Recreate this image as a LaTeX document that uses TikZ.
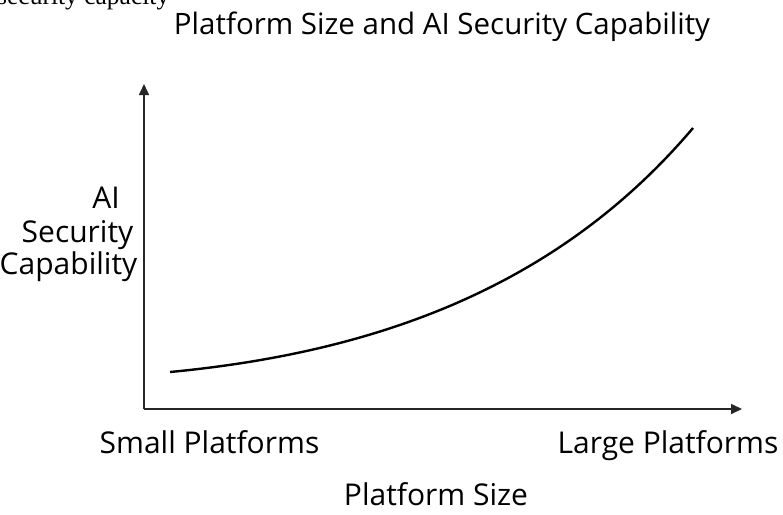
\documentclass[tikz,border=0pt]{standalone}
\usepackage{fontspec}
\setmainfont{Open Sans}
\newfontfamily\serifpart{Liberation Serif}
\usetikzlibrary{arrows.meta}
\begin{document}
\begin{tikzpicture}[x=1pt,y=-1pt,
  lbl/.style={font=\fontsize{30}{34}\selectfont, inner sep=0pt, anchor=base},
  axis/.style={line width=1.6pt, draw=black!85, -{Triangle[length=11pt,width=10pt]}},
  curve/.style={line width=2.4pt}]
\useasboundingbox[fill=white] (0,0) rectangle (783,514);
\node[font=\serifpart\fontsize{25.5}{27}\selectfont, anchor=base west, inner sep=0pt] (frag) at (-3,5) {security capacity};
\node[lbl, font=\fontsize{29.5}{34}\selectfont] (title) at (442,34) {Platform Size and AI Security Capability};
\coordinate (origin) at (144,409);
\coordinate (ytip) at (144,84);
\coordinate (xtip) at (742,409);
\draw[axis] (origin) -- (ytip);
\draw[axis] (origin) -- (xtip);
\node[lbl] (ylabA) at (106,208) {AI};
\node[lbl] (ylabB) at (77.5,242) {Security};
\node[lbl] (ylabC) at (68.5,274) {Capability};
\node[lbl] (small) at (209.5,453) {Small Platforms};
\node[lbl] (large) at (668,453) {Large Platforms};
\node[lbl] (xlabel) at (436,505) {Platform Size};
\coordinate (cstart) at (170,372);
\coordinate (cend) at (693,128);
\draw[curve] (cstart) .. controls (380,352) and (560,285) .. (cend);
\end{tikzpicture}
\end{document}
